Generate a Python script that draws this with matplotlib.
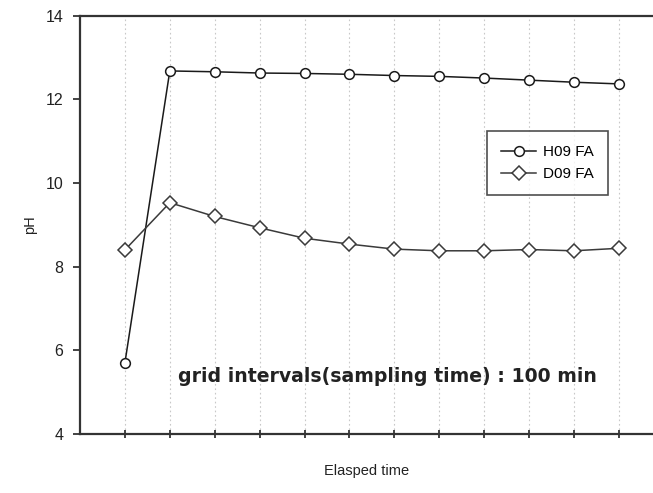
import matplotlib
matplotlib.use("Agg")
import matplotlib.pyplot as plt

x_index = list(range(12))
h09_fa = [5.70, 12.68, 12.66, 12.63, 12.62, 12.60, 12.57, 12.55, 12.51, 12.46, 12.41, 12.37]
d09_fa = [8.40, 9.53, 9.20, 8.93, 8.68, 8.54, 8.42, 8.38, 8.38, 8.41, 8.38, 8.44]
y_ticks = [4, 6, 8, 10, 12, 14]

plt.rcParams['font.family'] = ['Liberation Sans', 'DejaVu Sans']

fig = plt.figure(figsize=(6.53, 4.93), dpi=100)
ax = fig.add_axes([0.1225, 0.1197, 0.8775, 0.8484])

ax.plot(x_index, h09_fa, color='#1a1a1a', lw=1.1, marker='o', ms=7,
        mfc='white', mec='#1a1a1a', mew=1.1, label='H09 FA', zorder=3)
ax.plot(x_index, d09_fa, color='#3a3a3a', lw=1.1, marker='D', ms=7,
        mfc='white', mec='#3a3a3a', mew=1.1, label='D09 FA', zorder=3)

ax.set_xlim(-1, 11.76)
ax.set_ylim(4, 14)
ax.set_yticks(y_ticks)
ax.set_xticks(x_index)
ax.set_xticklabels([])
ax.xaxis.grid(True, color='#c8c8c8', linestyle=(0, (1.5, 2.5)), lw=0.8)
ax.tick_params(axis='y', direction='out', length=5, width=1.2, labelsize=11.5, pad=7, colors='#222222')
ax.tick_params(axis='x', direction='inout', length=6, width=1.2, colors='#222222')

for s in ['left', 'top', 'bottom']:
    ax.spines[s].set_linewidth(1.6)
    ax.spines[s].set_color('#333333')
ax.spines['right'].set_visible(False)

ax.set_ylabel('pH', fontsize=10.5, labelpad=6, color='#222222')
ax.set_xlabel('Elasped time', fontsize=10.5, labelpad=15, color='#222222')

leg = ax.legend(loc='upper left', bbox_to_anchor=(0.6975, 0.7415), fontsize=11,
                frameon=True, fancybox=False, edgecolor='#222222',
                handlelength=2.3, borderpad=0.9, labelspacing=0.5, handletextpad=0.45)
leg.get_frame().set_linewidth(1.2)

ax.text(1.18, 5.37, 'grid intervals(sampling time) : 100 min', fontsize=13.6,
        fontweight='bold', color='#222222', va='center', ha='left',
        family=['DejaVu Sans'])

fig.savefig('out.png', dpi=100)
